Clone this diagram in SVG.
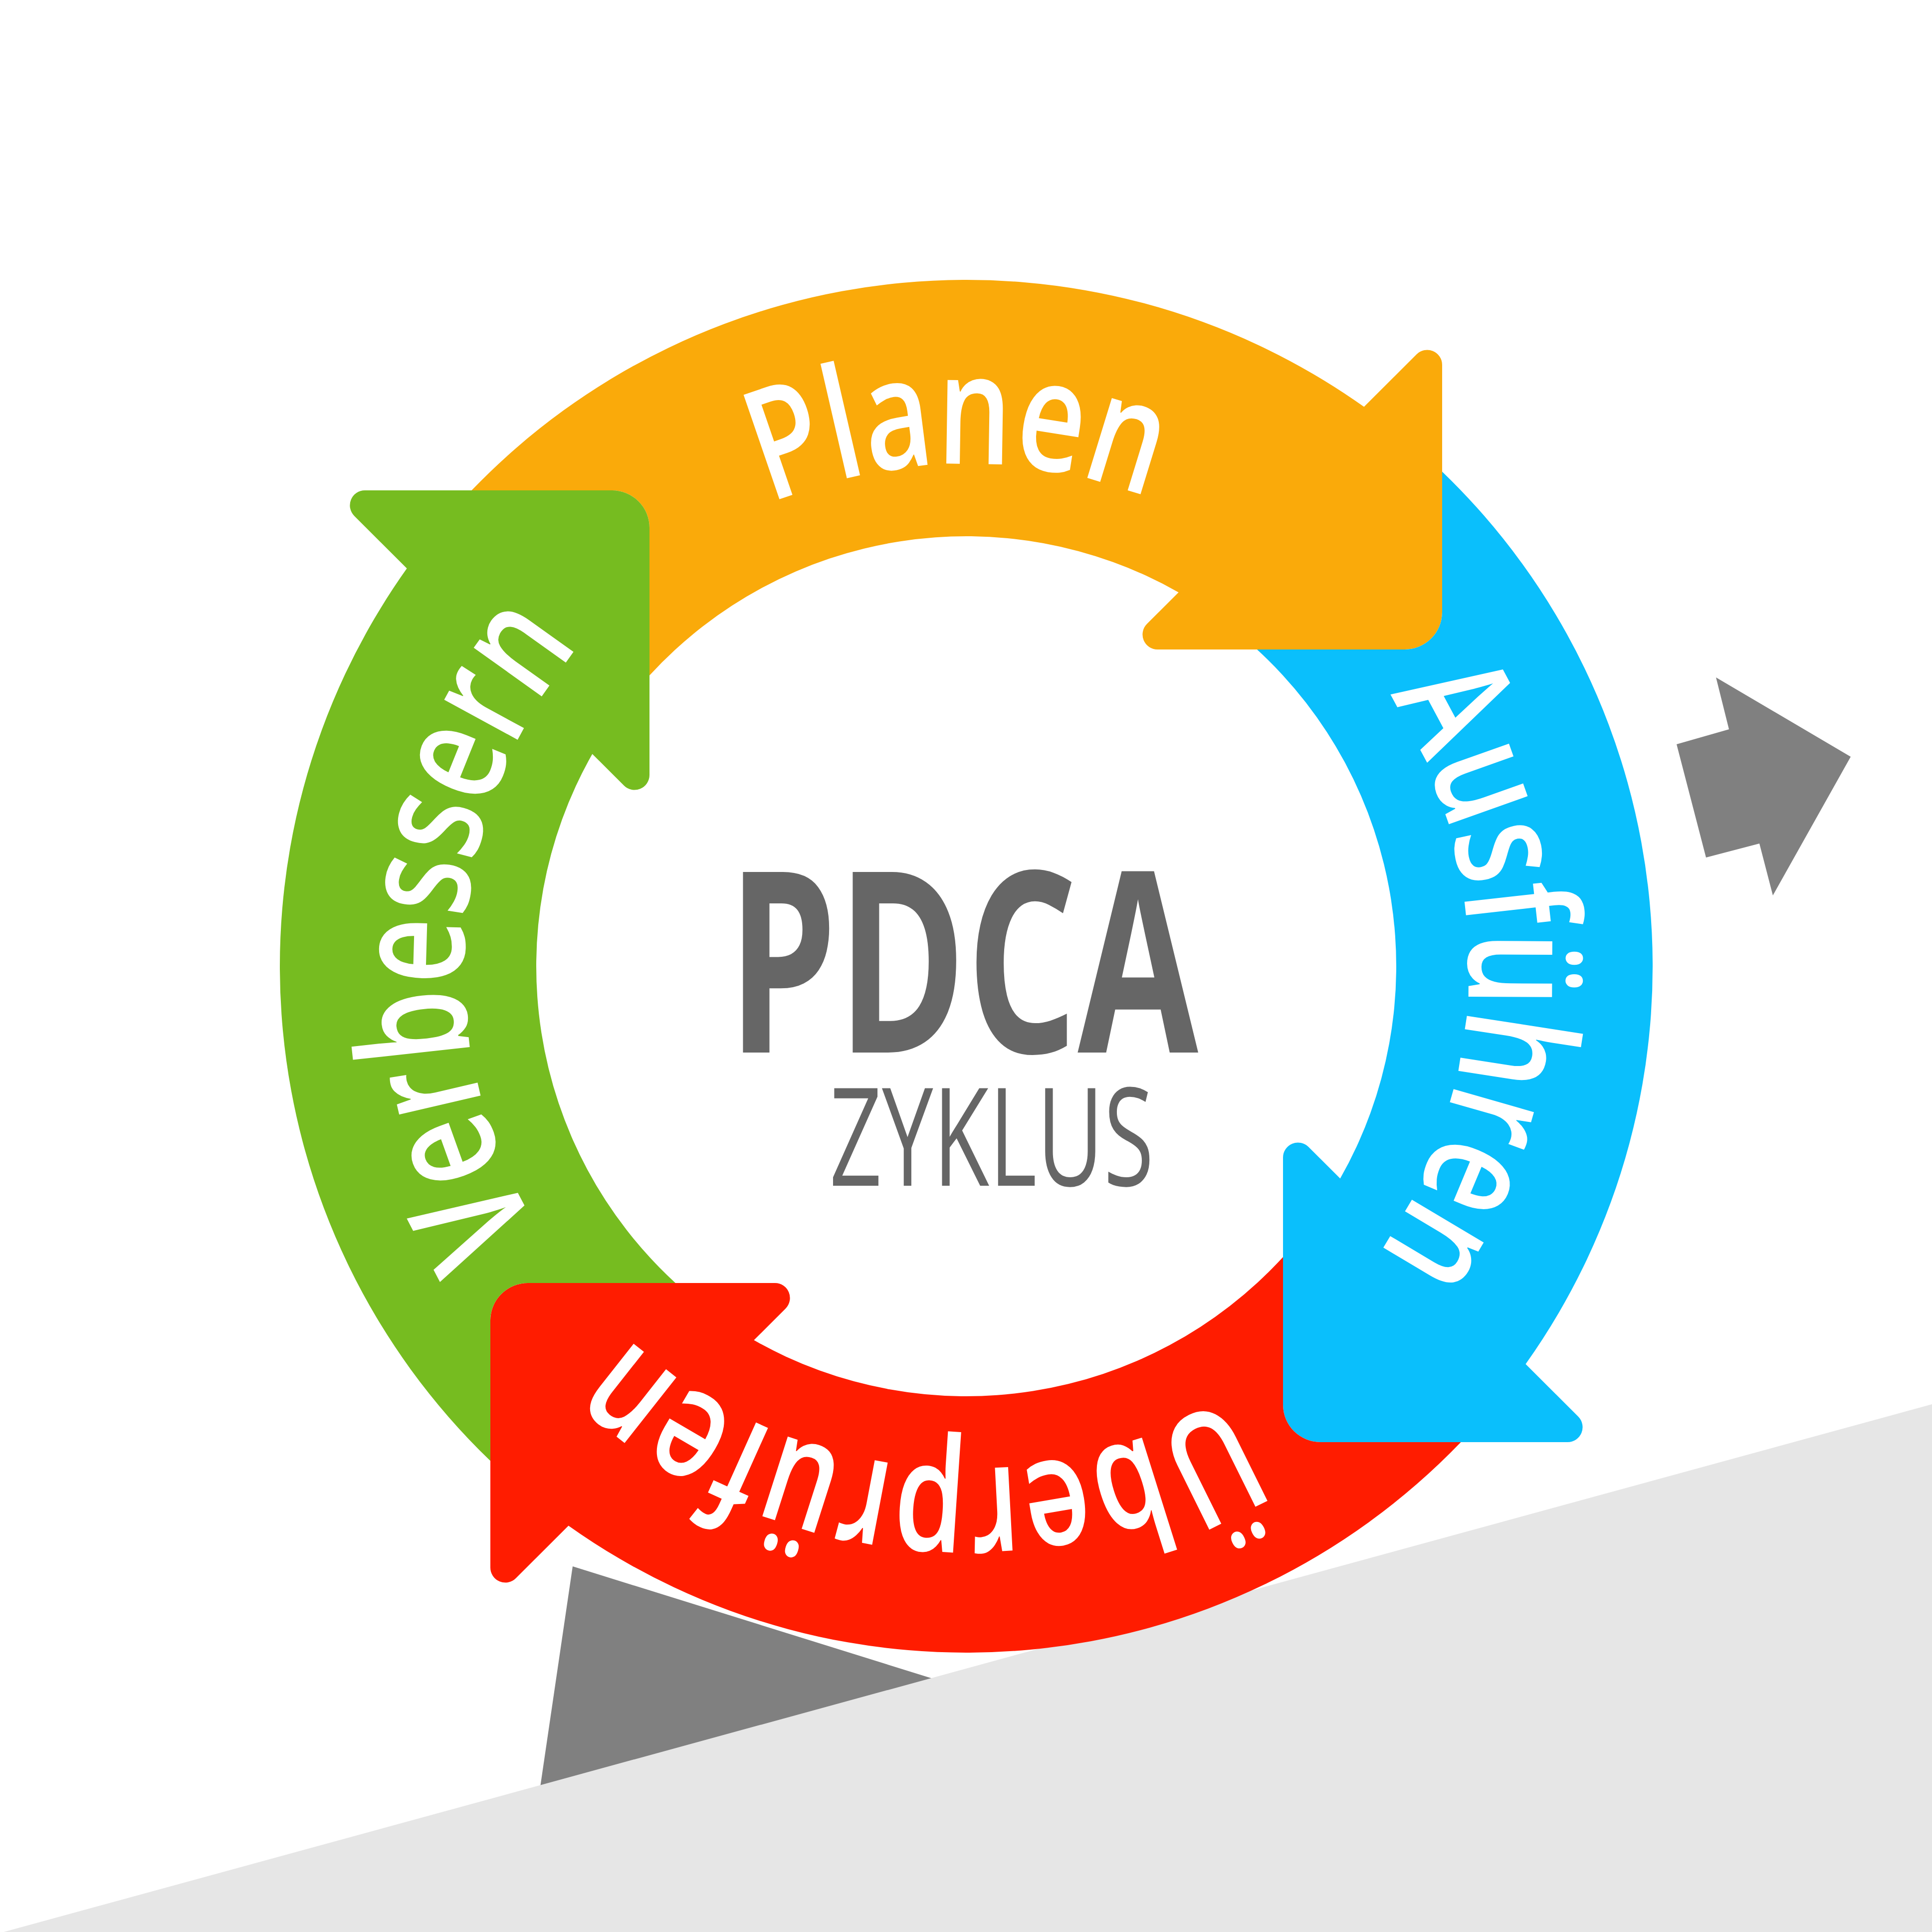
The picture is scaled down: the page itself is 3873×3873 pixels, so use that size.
<svg xmlns="http://www.w3.org/2000/svg" width="3873" height="3873" viewBox="0 0 3873 3873">
<style>
.lbl { font-family: "Open Sans", "Noto Sans", "DejaVu Sans", sans-serif; font-size: 310px; font-weight: 650; fill: #ffffff; }
.ctr { font-family: "Open Sans", "Noto Sans", "DejaVu Sans", sans-serif; fill: #666666; }
.plan { fill: #FAAA0A; }
.do { fill: #0ABFFC; }
.check { fill: #FF1C00; }
.act { fill: #76BC20; }
.dark { fill: #808080; }
.ramp { fill: #E6E6E6; }
</style>
<defs>
<path id="arrow" d="M 945.41 983 A 1376 1376 0 0 1 2734.4 815.6 L 2839.8 710.2 A 30 30 0 0 1 2891 731.4 L 2891 1227 A 75 75 0 0 1 2816 1302 L 2320.4 1302 A 30 30 0 0 1 2299.2 1250.8 L 2362.6 1187.4 A 862 862 0 0 0 1302 1354.06 L 1302 1058 A 75 75 0 0 0 1227 983 Z"/>
<path id="tp" d="M 930 1937 A 1007 1007 0 1 1 2944 1937 A 1007 1007 0 1 1 930 1937"/>
</defs>
<rect width="3873" height="3873" fill="#ffffff"/>
<g id="background">
<polygon class="dark" points="3440,1358 3710,1517 3554,1795 3527,1691 3420,1719 3361,1492 3466,1462"/>
<polygon class="dark" points="1148,3140 1950,3390 1073,3650"/>
<polygon class="ramp" points="0,3875 3873,2815 3873,3873 0,3873"/>
</g>
<g id="plan">
<use href="#arrow" class="plan"/>
<text class="lbl" text-anchor="middle" transform="rotate(-0.87 1937 1937)"><textPath href="#tp" startOffset="25%" textLength="780" lengthAdjust="spacingAndGlyphs">Planen</textPath></text>
</g>
<g id="do">
<use href="#arrow" class="do" transform="rotate(90 1937 1937)"/>
<text class="lbl" text-anchor="middle" transform="rotate(91.2 1937 1937)"><textPath href="#tp" startOffset="25%" textLength="1190" lengthAdjust="spacingAndGlyphs">Ausführen</textPath></text>
</g>
<g id="check">
<use href="#arrow" class="check" transform="rotate(180 1937 1937)"/>
<text class="lbl" text-anchor="middle" transform="rotate(185.6 1937 1937)"><textPath href="#tp" startOffset="25%" textLength="1294" lengthAdjust="spacingAndGlyphs">Überprüfen</textPath></text>
</g>
<g id="act">
<use href="#arrow" class="act" transform="rotate(270 1937 1937)"/>
<text class="lbl" text-anchor="middle" transform="rotate(274 1937 1937)"><textPath href="#tp" startOffset="25%" textLength="1255" lengthAdjust="spacingAndGlyphs">Verbessern</textPath></text>
</g>
<g id="title">
<text class="ctr" x="1458" y="2110" font-size="507" font-weight="700" textLength="944" lengthAdjust="spacingAndGlyphs">PDCA</text>
<text class="ctr" x="1663" y="2377" font-size="274" textLength="650" lengthAdjust="spacingAndGlyphs">ZYKLUS</text>
</g>
</svg>
